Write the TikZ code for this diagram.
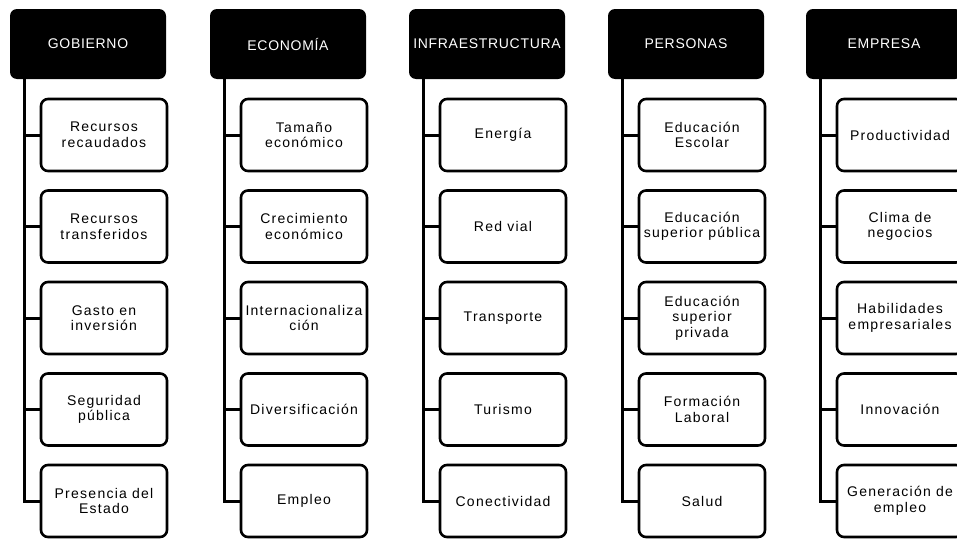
\documentclass[tikz,border=0pt]{standalone}
\usepackage{fontspec}
\setmainfont{Liberation Sans}[LetterSpace=9]
\newfontfamily\hdfont{Liberation Sans}[LetterSpace=5]
\usetikzlibrary{calc}
\begin{document}
\begin{tikzpicture}[x=1pt,y=-1pt,
  hd/.style={fill=black, rounded corners=7pt, minimum width=156pt, minimum height=70pt,
    inner sep=0pt, text=white, font=\hdfont\fontsize{14}{15.5}\selectfont, align=center},
  item/.style={draw=black, fill=white, line width=2.6pt, rounded corners=7pt,
    minimum width=126pt, minimum height=72pt, inner sep=0pt, align=center,
    font=\fontsize{14}{15.5}\selectfont},
  link/.style={line width=3pt}]
\useasboundingbox (0,0) rectangle (957,538);
\clip (0,0) rectangle (957,538);
\foreach \col/\xx/\head/\ta/\tb/\tc/\td/\te in {
  1/10/{GOBIERNO}/{Recursos\\recaudados}/{Recursos\\transferidos}/{Gasto en\\inversión}/{Seguridad\\pública}/{Presencia del\\Estado},
  2/210/{ECONOMÍA}/{Tamaño\\económico}/{Crecimiento\\económico}/{Internacionaliza\\ción}/{Diversificación}/{Empleo},
  3/409/{INFRAESTRUCTURA}/{Energía}/{Red vial}/{Transporte}/{Turismo}/{Conectividad},
  4/608/{PERSONAS}/{Educación\\Escolar}/{Educación\\superior pública}/{Educación\\superior\\privada}/{Formación\\Laboral}/{Salud},
  5/806/{EMPRESA}/{Productividad}/{Clima de\\negocios}/{Habilidades\\empresariales}/{Innovación}/{Generación de\\empleo}}{
  \node[hd] (h\col) at (\xx+78,44) {\head};
  \coordinate (s\col) at ($(h\col.south west)+(15,0)$);
  \node[item] (c\col a) at (\xx+94,135) {\ta};
  \node[item] (c\col b) at (\xx+94,226.5) {\tb};
  \node[item] (c\col c) at (\xx+94,318) {\tc};
  \node[item] (c\col d) at (\xx+94,409.5) {\td};
  \node[item] (c\col e) at (\xx+94,501) {\te};
  \foreach \k in {a,b,c,d,e}{
    \draw[link] (s\col) |- (c\col\k.west);
  }
}
\end{tikzpicture}
\end{document}
